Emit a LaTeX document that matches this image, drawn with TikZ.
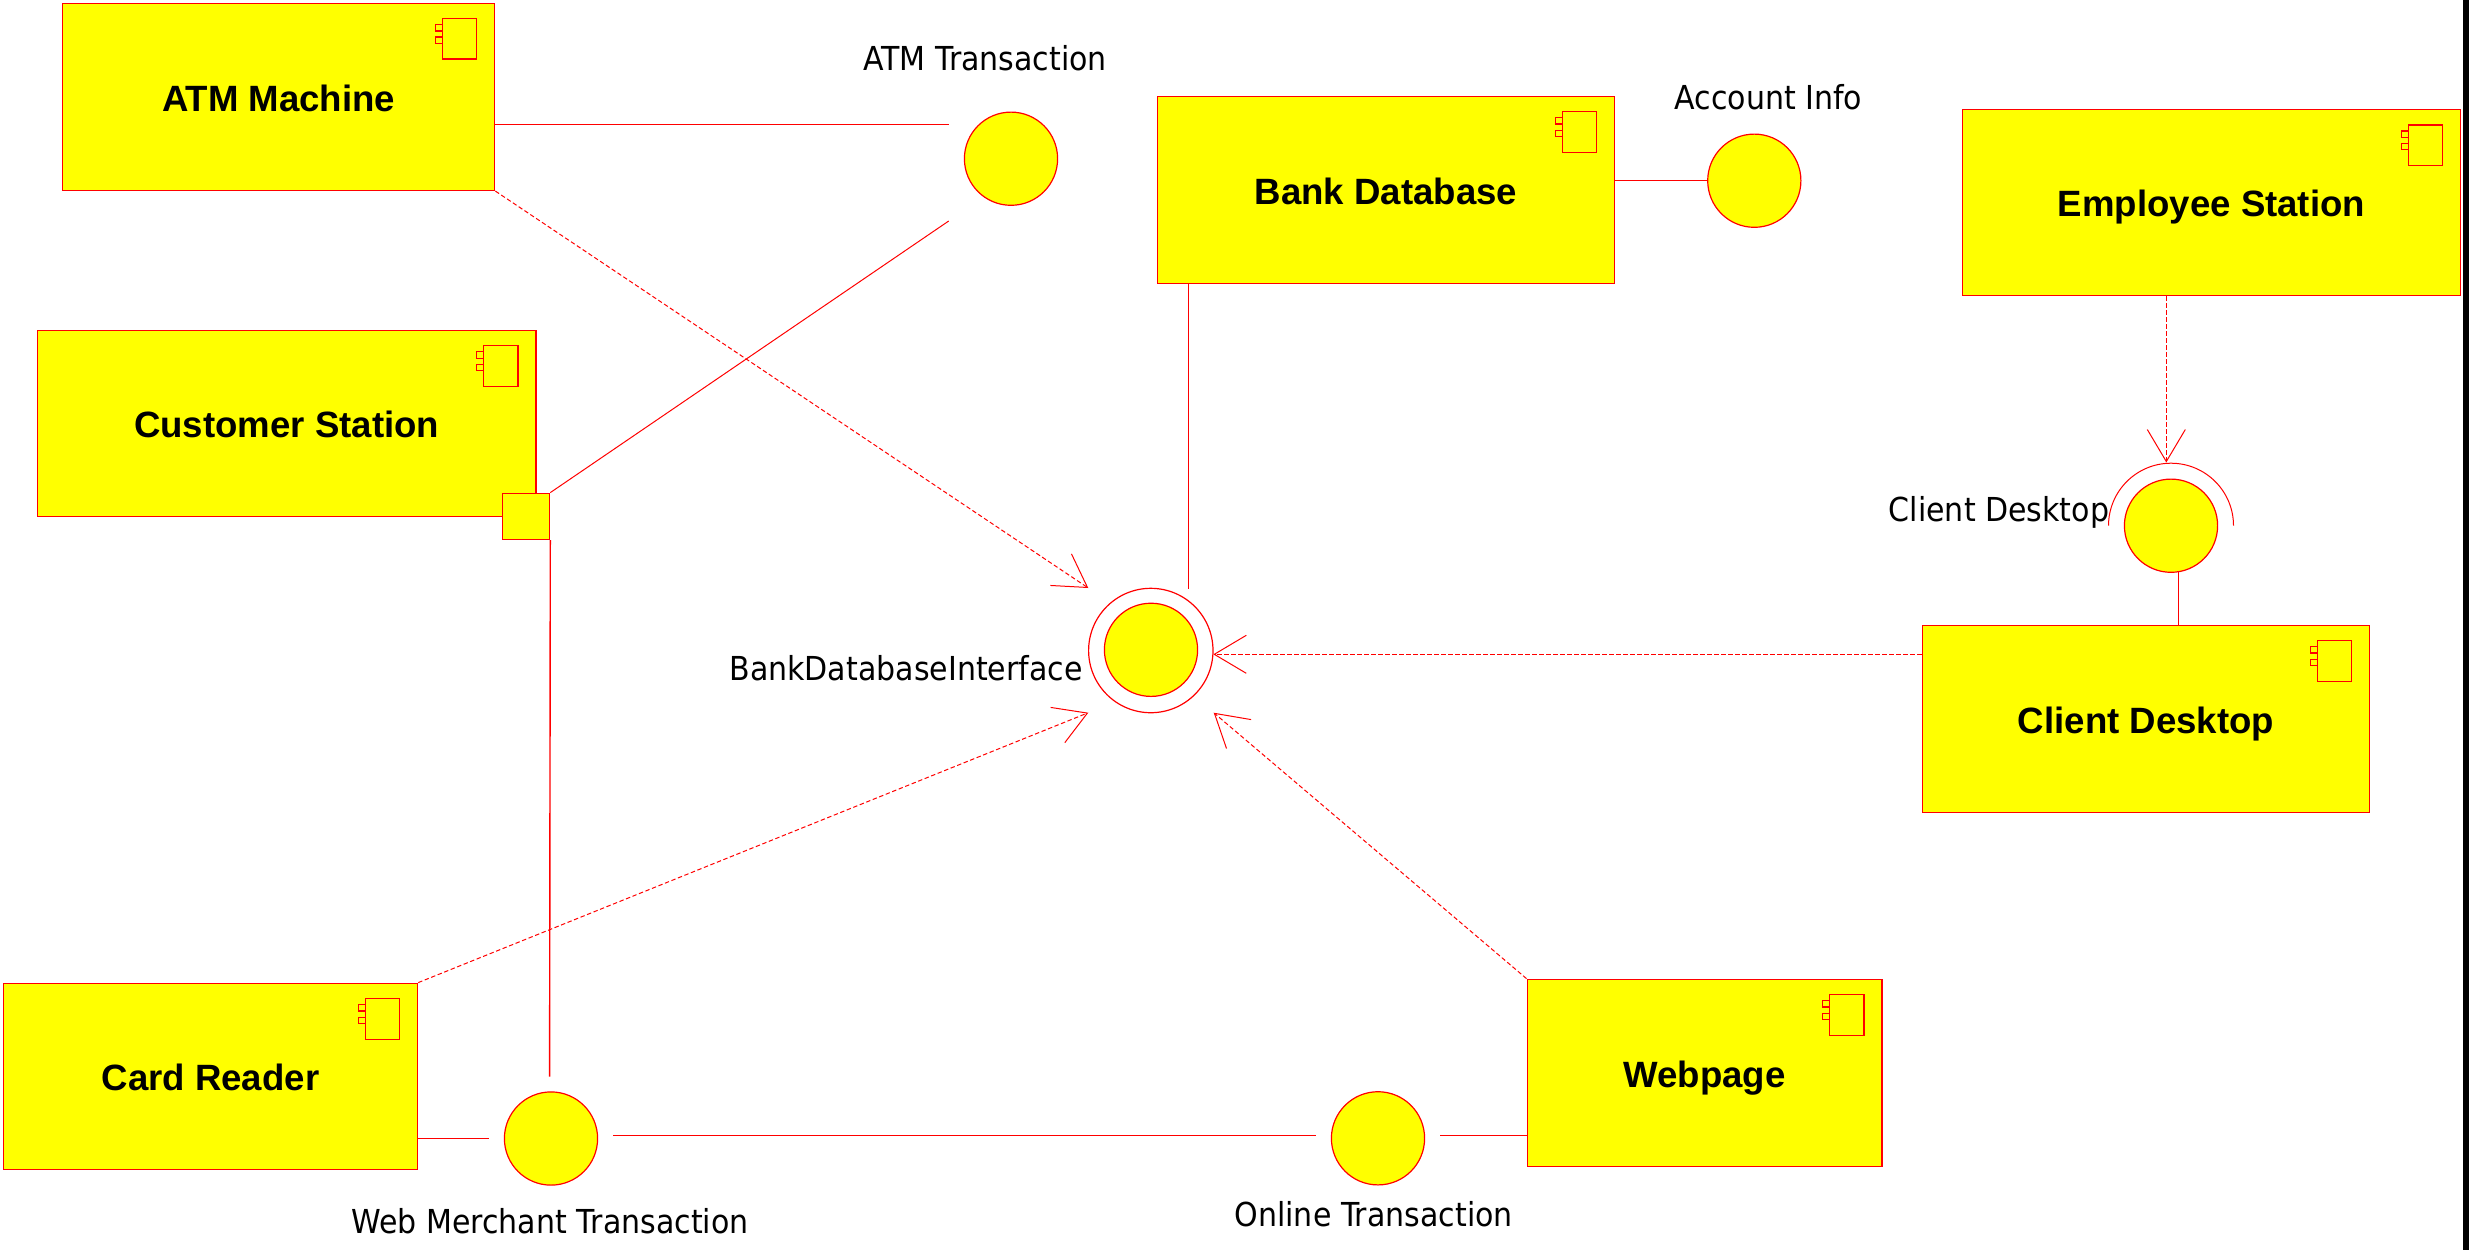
\documentclass[tikz,border=0pt]{standalone}
\usepackage{fontspec}
\setmainfont{Liberation Sans}
\newfontfamily\labelfont{DejaVu Sans}[FakeStretch=0.91]
\usepackage{tikz}
\usetikzlibrary{arrows.meta}
\definecolor{umlred}{RGB}{255,0,0}
\definecolor{umlyellow}{RGB}{255,255,0}

\begin{document}
\begin{tikzpicture}
 [ x=0.5pt
 , y=-0.5pt
 , comp/.style={rectangle, draw=umlred, fill=umlyellow, line width=0.7pt, inner sep=0pt, font=\fontsize{18.3}{18.3}\selectfont\bfseries, text height=14.4pt, text depth=0pt}
 , iface/.style={circle, draw=umlred, fill=umlyellow, line width=0.6pt, inner sep=0pt, minimum size=46.6pt}
 , ring/.style={circle, draw=umlred, line width=0.6pt, inner sep=0pt, minimum size=62.2pt}
 , portbox/.style={rectangle, draw=umlred, fill=umlyellow, line width=0.7pt, inner sep=0pt, minimum width=23.5pt, minimum height=23pt}
 , lollylabel/.style={anchor=base, inner sep=0pt, font=\labelfont\fontsize{16.5}{16.5}\selectfont}
 , link/.style={draw=umlred, line width=0.7pt}
 , thinlink/.style={draw=umlred, line width=0.5pt}
 , deplink/.style={draw=umlred, line width=0.5pt, dash pattern=on 2.2pt off 1.3pt, -{Straight Barb[length=16pt, width=19pt, line width=0.5pt]}}
 , icon/.style={draw=umlred, line width=0.6pt}
 ]
  \useasboundingbox (0,0) rectangle (2469,1250);
  \fill[black] (2463,0) rectangle (2469,1250);

  \node[comp, minimum width=216.1pt, minimum height=93.6pt] (atm) at (278.6,96.8) {ATM Machine};
  \node[comp, minimum width=249.1pt, minimum height=93pt] (cust) at (286.7,423.4) {Customer Station};
  \node[comp, minimum width=228.6pt, minimum height=93.5pt] (bank) at (1386,189.8) {Bank Database};
  \node[comp, minimum width=249.2pt, minimum height=92.9pt] (emp) at (2211.5,202.5) {Employee Station};
  \node[comp, minimum width=223.6pt, minimum height=93.7pt] (client) at (2146,719) {Client Desktop};
  \node[comp, minimum width=207pt, minimum height=93pt] (card) at (210.5,1076.3) {Card Reader};
  \node[comp, minimum width=177.3pt, minimum height=93.5pt] (webp) at (1704.5,1072.8) {Webpage};

  % the component mark in each corner
  \foreach \comp in {atm, cust, bank, emp, client, card, webp}
  {
    \draw[icon] ([shift={(-18.6,16)}]\comp.north east) rectangle ++(-34.4,40.5);
    \draw[icon] ([shift={(-53,22)}]\comp.north east) rectangle ++(-7,6.4);
    \draw[icon] ([shift={(-53,34.5)}]\comp.north east) rectangle ++(-7,6.4);
  }

  \node[portbox] (custport) at (526.1,516.3) {};

  \node[iface] (atmtx) at (1011,158.7) {};
  \node[iface] (acct) at (1754.3,180.7) {};
  \node[ring] (bdiring) at (1150.8,650.5) {};
  \node[iface] (bdi) at (1151,649.8) {};
  \node[iface] (deskball) at (2171,525.7) {};
  \node[iface] (merch) at (551,1138.5) {};
  \node[iface] (online) at (1378,1138.3) {};

  \node[lollylabel] (atmtxlabel) at (985,70.7) {ATM Transaction};
  \node[lollylabel] (acctlabel) at (1768.5,109) {Account Info};
  \node[lollylabel] (bdilabel) at (906,680) {BankDatabaseInterface};
  \node[lollylabel] (desklabel) at (1999,521.4) {Client Desktop};
  \node[lollylabel] (merchlabel) at (549.9,1233) {Web Merchant Transaction};
  \node[lollylabel] (onlinelabel) at (1373.7,1226.7) {Online Transaction};

  \coordinate (atmend) at (948.7,124.3);
  \coordinate (custend) at (948.7,221);
  \coordinate (merchup) at (549.6,1076.7);
  \coordinate (cardend) at (489,1138.3);
  \coordinate (merchout) at (613,1135.3);
  \coordinate (onlinein) at (1316,1135.3);
  \coordinate (onlineout) at (1440,1135.3);
  \coordinate (bankend) at (1188.5,588.7);
  \coordinate (empend) at (2166.3,462.5);
  \coordinate (bdinw) at (1088.3,588);
  \coordinate (bdisw) at (1088.3,712.7);
  \coordinate (bdise) at (1213.7,712.7);
  \coordinate (bdie) at (1213.3,654.3);

  \draw[link] (atm.east |- atmend) -- (atmend);
  \draw[thinlink] (custport.north east) -- (custend);
  \draw[link] (custport.south east) -- (merchup);
  \draw[link] (card.east |- cardend) -- (cardend);
  \draw[link] (merchout) -- (onlinein);
  \draw[link] (onlineout) -- (onlineout -| webp.west);
  \draw[link] (bank.east |- acct.west) -- (acct.west);
  \draw[link] (bank.south -| bankend) -- (bankend);
  \draw[link] (deskball.-81.7) -- (deskball.-81.7 |- client.north);

  \draw[deplink] (atm.south east) -- (bdinw);
  \draw[deplink] (card.north east) -- (bdisw);
  \draw[deplink] (webp.north west) -- (bdise);
  \draw[deplink] (client.west |- bdie) -- (bdie);
  \draw[deplink] (emp.south -| empend) -- (empend);

  \draw[thinlink] (deskball.center) ++(-62.5,0) arc[start angle=180, end angle=360, radius=62.5];
\end{tikzpicture}
\end{document}
